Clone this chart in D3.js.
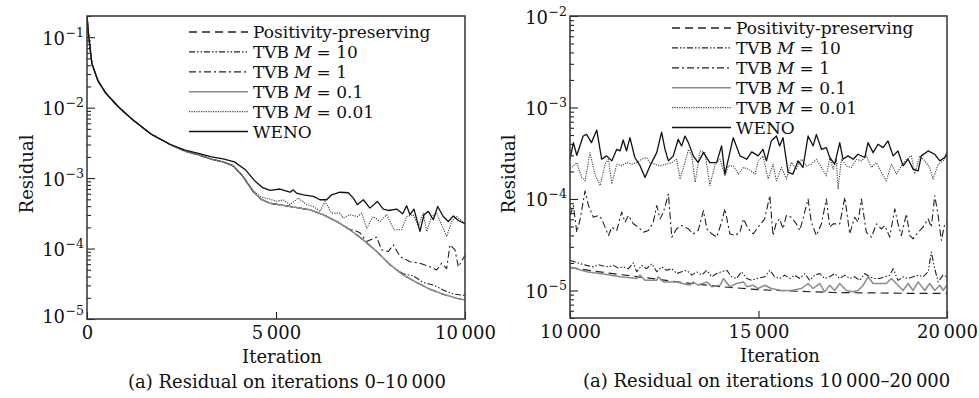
<!DOCTYPE html>
<html>
<head>
<meta charset="utf-8">
<script src="https://cdn.jsdelivr.net/npm/d3@7"></script>
<style>
body { margin: 0; background: #fff; }
svg text { font-family: "DejaVu Serif", serif; fill: #111; }
</style>
</head>
<body>
<svg id="chart" width="979" height="398"></svg>
<script>
// ---- data: [iteration, residual] ----
var seriesNames = ["Positivity-preserving", "TVB M = 10", "TVB M = 1", "TVB M = 0.1", "TVB M = 0.01", "WENO"];

// (a) iterations 0-10 000: part shared by every scheme
var leftShared = [[0, 0.2], [40, 0.11], [130, 0.042], [290, 0.024], [500, 0.016], [820, 0.0104],
    [1200, 0.0068], [1700, 0.0042], [2200, 0.003], [2600, 0.0024], [3000, 0.0021], [3300, 0.00185],
    [3600, 0.0017], [3860, 0.0015]];
var leftLower = [[4100, 1.1e-3], [4400, 6.4e-4], [4600, 5.0e-4], [4841, 4.4e-4], [5370, 3.96e-4],
    [5899, 3.55e-4], [6252, 3.02e-4], [6605, 2.42e-4], [6957, 1.85e-4], [7310, 1.33e-4], [7663, 9.1e-5],
    [8015, 5.9e-5], [8368, 4.2e-5], [8721, 3.3e-5], [9074, 2.64e-5], [9426, 2.24e-5], [9779, 1.97e-5],
    [10000, 1.86e-5]];
var leftTvb10Tail = [[8368, 4.37e-5], [8633, 4.09e-5], [8897, 3.3e-5], [9162, 3.04e-5], [9426, 2.58e-5],
    [9691, 2.26e-5], [10000, 2.15e-5]];
var leftTvb1Tail = [[7046, 1.85e-4], [7222, 1.67e-4], [7398, 1.26e-4], [7663, 1.45e-4], [7795, 9.6e-5],
    [7971, 9.1e-5], [8104, 1.13e-4], [8280, 7.7e-5], [8545, 6.5e-5], [8809, 6.2e-5], [9074, 5.5e-5],
    [9250, 4.97e-5], [9382, 6.2e-5], [9514, 5.2e-5], [9603, 1.13e-4], [9735, 9.6e-5], [9823, 5.5e-5],
    [9956, 7.3e-5], [10000, 8e-5]];
var leftTvb001Tail = [[4100, 1.1e-3], [4400, 6.6e-4], [4600, 5.4e-4], [4841, 5.0e-4], [5017, 4.7e-4],
    [5194, 4.9e-4], [5370, 4.2e-4], [5590, 5.2e-4], [5811, 4.2e-4], [5987, 3.96e-4], [6164, 3.37e-4],
    [6296, 4.67e-4], [6472, 3.18e-4], [6693, 3.18e-4], [6781, 2.7e-4], [6957, 3.02e-4], [7151, 2.85e-4],
    [7266, 3.18e-4], [7398, 1.95e-4], [7575, 2.85e-4], [7751, 2.42e-4], [7927, 3.02e-4], [8121, 1.85e-4],
    [8324, 1.85e-4], [8456, 2.85e-4], [8633, 3.02e-4], [8765, 2.06e-4], [8897, 3.18e-4], [8986, 1.75e-4],
    [9118, 2.85e-4], [9250, 3.18e-4], [9382, 2.17e-4], [9514, 1.48e-4], [9647, 2.42e-4], [9779, 2.85e-4],
    [10000, 2.25e-4]];
var leftWenoTail = [[2600, 0.0025], [3000, 0.0022], [3300, 0.002], [3600, 0.00188], [3900, 0.0017],
    [4200, 0.0013], [4450, 9e-4], [4650, 7.3e-4], [4841, 6.7e-4], [5106, 7.0e-4], [5370, 6.3e-4],
    [5458, 6.8e-4], [5546, 6.1e-4], [5723, 5.8e-4], [5987, 5.5e-4], [6164, 4.93e-4], [6340, 4.93e-4],
    [6472, 5.8e-4], [6693, 6.3e-4], [6913, 6.2e-4], [7046, 5.2e-4], [7151, 4.2e-4], [7310, 4.93e-4],
    [7486, 3.75e-4], [7680, 4.67e-4], [7839, 3.63e-4], [7971, 3.47e-4], [8192, 3.63e-4], [8351, 3.12e-4],
    [8456, 4.05e-4], [8545, 3.02e-4], [8650, 3.63e-4], [8809, 1.75e-4], [8915, 3.02e-4], [9030, 3.37e-4],
    [9162, 2.56e-4], [9277, 3.96e-4], [9426, 2.85e-4], [9559, 2.42e-4], [9691, 2.9e-4], [9823, 2.5e-4],
    [10000, 2.25e-4]];

// (b) iterations 10 000-20 000
var rightPos = [[10000, 1.78e-5], [11000, 1.55e-5], [12000, 1.38e-5], [13000, 1.22e-5], [14000, 1.1e-5],
    [15000, 1.02e-5], [16000, 9.8e-6], [17000, 9.5e-6], [18000, 9.4e-6], [19000, 9.3e-6], [20000, 9.3e-6]];
var rightTvb10 = [[10000, 2.14e-5], [10130, 2.05e-5], [10270, 1.96e-5], [10440, 1.88e-5], [10620, 1.81e-5],
    [10750, 1.91e-5], [10880, 1.85e-5], [11020, 1.81e-5], [11150, 1.88e-5], [11280, 1.76e-5], [11410, 1.81e-5],
    [11550, 1.73e-5], [11680, 2.0e-5], [11770, 1.6e-5], [11900, 1.88e-5], [12030, 1.73e-5], [12170, 1.96e-5],
    [12300, 1.6e-5], [12430, 1.81e-5], [12560, 1.66e-5], [12700, 1.73e-5], [12830, 1.53e-5], [12960, 1.6e-5],
    [13100, 1.66e-5], [13230, 1.47e-5], [13360, 1.6e-5], [13490, 1.47e-5], [13630, 1.66e-5], [13760, 1.41e-5],
    [13890, 1.53e-5], [14020, 1.6e-5], [14160, 1.66e-5], [14290, 1.41e-5], [14420, 1.35e-5], [14550, 1.6e-5],
    [14690, 1.35e-5], [14820, 1.29e-5], [14950, 1.35e-5], [15165, 1.41e-5], [15300, 1.66e-5], [15430, 1.41e-5],
    [15560, 1.35e-5], [15695, 1.47e-5], [15830, 1.35e-5], [15960, 1.47e-5], [16095, 1.35e-5], [16225, 1.53e-5],
    [16360, 1.29e-5], [16490, 1.47e-5], [16625, 1.53e-5], [16755, 1.35e-5], [16890, 1.41e-5], [17020, 1.53e-5],
    [17155, 1.35e-5], [17290, 1.47e-5], [17420, 1.35e-5], [17550, 1.41e-5], [17685, 1.29e-5], [17820, 1.53e-5],
    [17950, 1.41e-5], [18085, 1.35e-5], [18215, 1.35e-5], [18350, 1.41e-5], [18480, 1.47e-5], [18570, 1.73e-5],
    [18700, 1.29e-5], [18835, 1.41e-5], [18970, 1.35e-5], [19100, 1.41e-5], [19235, 1.47e-5], [19365, 1.41e-5],
    [19500, 1.6e-5], [19585, 2.63e-5], [19675, 1.73e-5], [19765, 1.24e-5], [19895, 1.47e-5], [20000, 1.41e-5]];
var rightTvb1 = [[10000, 6.6e-5], [10090, 8.46e-5], [10180, 4.34e-5], [10270, 6.06e-5], [10400, 1.23e-4],
    [10490, 8.46e-5], [10620, 6.31e-5], [10750, 6.6e-5], [10840, 6.06e-5], [10930, 4.92e-5], [11020, 3.99e-5],
    [11110, 4.92e-5], [11240, 4.53e-5], [11370, 7.2e-5], [11460, 5.57e-5], [11550, 6.6e-5], [11680, 5.35e-5],
    [11810, 4.92e-5], [11950, 4.34e-5], [12080, 4.53e-5], [12210, 5.57e-5], [12300, 8.46e-5], [12390, 6.06e-5],
    [12480, 7.2e-5], [12610, 1.13e-4], [12700, 3.83e-5], [12830, 4.72e-5], [12960, 5.13e-5], [13140, 4.72e-5],
    [13270, 4.16e-5], [13400, 4.53e-5], [13540, 7.47e-5], [13630, 4.72e-5], [13760, 4.16e-5], [13890, 3.83e-5],
    [14020, 5.57e-5], [14110, 7.8e-5], [14240, 4.16e-5], [14380, 3.99e-5], [14510, 4.34e-5], [14600, 6.06e-5],
    [14730, 4.72e-5], [14860, 4.16e-5], [14990, 4.92e-5], [15165, 6.06e-5], [15300, 1.09e-4], [15385, 3.99e-5],
    [15475, 5.57e-5], [15560, 6.06e-5], [15650, 4.72e-5], [15740, 6.6e-5], [15870, 6.31e-5], [16005, 5.35e-5],
    [16095, 4.53e-5], [16180, 6.06e-5], [16315, 1.0e-4], [16400, 5.57e-5], [16535, 3.99e-5], [16670, 5.35e-5],
    [16800, 1.0e-4], [16890, 4.92e-5], [16980, 5.35e-5], [17155, 5.35e-5], [17290, 1.04e-4], [17420, 4.16e-5],
    [17550, 6.31e-5], [17640, 5.57e-5], [17730, 1.0e-4], [17860, 4.34e-5], [17995, 3.83e-5], [18130, 5.35e-5],
    [18260, 4.72e-5], [18350, 5.13e-5], [18480, 3.83e-5], [18615, 7.8e-5], [18700, 5.35e-5], [18790, 3.99e-5],
    [18925, 6.87e-5], [19010, 3.99e-5], [19100, 3.67e-5], [19235, 4.34e-5], [19365, 4.92e-5], [19500, 6.06e-5],
    [19585, 4.92e-5], [19675, 1.09e-4], [19765, 6.6e-5], [19850, 3.52e-5], [19940, 5.35e-5], [20000, 5.57e-5]];
var rightTvb01 = [[10000, 1.81e-5], [10440, 1.6e-5], [10880, 1.51e-5], [11330, 1.41e-5], [11770, 1.35e-5],
    [11860, 1.47e-5], [11990, 1.29e-5], [12300, 1.29e-5], [12340, 1.41e-5], [12480, 1.24e-5], [12830, 1.24e-5],
    [13180, 1.14e-5], [13270, 1.24e-5], [13400, 1.14e-5], [13630, 1.24e-5], [13760, 1.1e-5], [13980, 1.14e-5],
    [14070, 1.35e-5], [14240, 1.1e-5], [14420, 1.19e-5], [14600, 1.24e-5], [14690, 1.1e-5], [14860, 1.14e-5],
    [14990, 1.05e-5], [15165, 1.14e-5], [15340, 1.05e-5], [15610, 1.0e-5], [15870, 1.0e-5], [16140, 1.05e-5],
    [16315, 1.19e-5], [16450, 1.05e-5], [16625, 1.19e-5], [16755, 9.66e-6], [16890, 1.14e-5], [17020, 1.0e-5],
    [17155, 1.19e-5], [17330, 1.0e-5], [17510, 9.66e-6], [17640, 1.0e-5], [17775, 1.14e-5], [17905, 1.41e-5],
    [18040, 1.19e-5], [18215, 1.19e-5], [18390, 1.19e-5], [18525, 1.35e-5], [18700, 1.14e-5], [18835, 1.0e-5],
    [18970, 1.19e-5], [19100, 1.0e-5], [19235, 1.24e-5], [19410, 1.0e-5], [19540, 1.19e-5], [19675, 1.0e-5],
    [19810, 1.14e-5], [19895, 1.0e-5], [20000, 1.14e-5]];
var rightTvb001 = [[10000, 2.15e-4], [10090, 2.3e-4], [10180, 2.5e-4], [10310, 1.72e-4], [10400, 1.58e-4],
    [10530, 3.21e-4], [10660, 1.87e-4], [10800, 1.4e-4], [10930, 2.4e-4], [11020, 2.72e-4], [11110, 1.46e-4],
    [11240, 2.4e-4], [11370, 2.3e-4], [11500, 2.5e-4], [11640, 2.4e-4], [11770, 2.5e-4], [11900, 2.72e-4],
    [12030, 2.84e-4], [12120, 2.5e-4], [12250, 2.4e-4], [12390, 2.3e-4], [12560, 2.4e-4], [12700, 2.5e-4],
    [12830, 2.72e-4], [12920, 1.65e-4], [13050, 2.5e-4], [13140, 3.49e-4], [13230, 2.96e-4], [13320, 1.52e-4],
    [13450, 3.35e-4], [13580, 3.21e-4], [13710, 1.4e-4], [13850, 2.4e-4], [13980, 2.72e-4], [14110, 1.79e-4],
    [14200, 2.3e-4], [14330, 2.3e-4], [14470, 1.87e-4], [14600, 2.21e-4], [14730, 2.12e-4], [14910, 1.87e-4],
    [14990, 2.61e-4], [15120, 2.96e-4], [15255, 1.65e-4], [15385, 2.4e-4], [15475, 1.58e-4], [15610, 2.21e-4],
    [15740, 1.65e-4], [15870, 2.5e-4], [16005, 2.12e-4], [16140, 2.72e-4], [16270, 2.3e-4], [16400, 2.4e-4],
    [16535, 2.72e-4], [16670, 2.21e-4], [16800, 1.79e-4], [16890, 2.84e-4], [16980, 2.12e-4], [17065, 2.72e-4],
    [17110, 1.28e-4], [17200, 2.72e-4], [17330, 2.3e-4], [17465, 2.21e-4], [17595, 2.72e-4], [17730, 2.61e-4],
    [17860, 2.96e-4], [17995, 2.21e-4], [18130, 2.5e-4], [18260, 1.95e-4], [18390, 1.58e-4], [18525, 2.4e-4],
    [18660, 1.87e-4], [18790, 2.3e-4], [18925, 2.72e-4], [19055, 2.96e-4], [19145, 1.87e-4], [19280, 2.96e-4],
    [19410, 2.61e-4], [19540, 2.21e-4], [19630, 1.65e-4], [19765, 2.4e-4], [19895, 2.61e-4], [20000, 2.96e-4]];
var rightWeno = [[10000, 2.72e-4], [10090, 4.13e-4], [10180, 3.0e-4], [10350, 4.88e-4], [10440, 5.08e-4],
    [10570, 4.13e-4], [10710, 5.66e-4], [10840, 2.72e-4], [10970, 2.96e-4], [11110, 2.61e-4], [11240, 3.49e-4],
    [11330, 3.35e-4], [11410, 4.41e-4], [11500, 3.35e-4], [11590, 4.68e-4], [11720, 2.84e-4], [11860, 2.3e-4],
    [11990, 1.72e-4], [12120, 2.3e-4], [12300, 3.21e-4], [12430, 5.39e-4], [12520, 3.49e-4], [12610, 2.61e-4],
    [12740, 2.96e-4], [12870, 4.49e-4], [12960, 3.8e-4], [13050, 4.88e-4], [13140, 4.13e-4], [13270, 2.96e-4],
    [13400, 2.5e-4], [13540, 3.21e-4], [13710, 2.5e-4], [13890, 2.5e-4], [14020, 3.8e-4], [14110, 1.87e-4],
    [14200, 2.72e-4], [14330, 4.68e-4], [14510, 2.96e-4], [14690, 2.72e-4], [14820, 3.27e-4], [14990, 2.96e-4],
    [15120, 3.49e-4], [15210, 2.61e-4], [15340, 4.31e-4], [15475, 4.88e-4], [15560, 3.8e-4], [15650, 4.68e-4],
    [15785, 1.95e-4], [15915, 1.87e-4], [16050, 2.61e-4], [16180, 2.21e-4], [16315, 4.88e-4], [16450, 3.8e-4],
    [16535, 5.08e-4], [16670, 3.49e-4], [16800, 3.64e-4], [16890, 2.84e-4], [17020, 2.4e-4], [17155, 4.13e-4],
    [17240, 2.72e-4], [17375, 2.96e-4], [17510, 2.72e-4], [17640, 3.08e-4], [17820, 2.84e-4], [17905, 4.13e-4],
    [18040, 3.21e-4], [18170, 3.96e-4], [18305, 3.64e-4], [18435, 4.31e-4], [18570, 2.96e-4], [18700, 3.35e-4],
    [18835, 2.3e-4], [18970, 2.72e-4], [19100, 2.12e-4], [19235, 2.03e-4], [19320, 2.96e-4], [19500, 3.35e-4],
    [19675, 3.08e-4], [19810, 2.61e-4], [19940, 2.84e-4], [20000, 3.21e-4]];

var leftXTicks = [0, 5000, 10000];
var rightXTicks = [10000, 15000, 20000];

// line look per scheme, same order as seriesNames
var lineStyles = [
    { color: "#222", width: 1.2, dash: "8,5" },
    { color: "#222", width: 1.1, dash: "6,2,1.5,2,1.5,2" },
    { color: "#222", width: 1.1, dash: "7,3,2,3" },
    { color: "#8c8c8c", width: 1.5, dash: null },
    { color: "#444", width: 1.1, dash: "1.2,1.2" },
    { color: "#111", width: 1.3, dash: null }
];

function upTo(arr, last) {
    return arr.filter(function (d) { return d[0] <= last; });
}

var leftSeries = [
    leftShared.concat(leftLower),
    leftShared.concat(upTo(leftLower, 8015), leftTvb10Tail),
    leftShared.concat(upTo(leftLower, 6957), leftTvb1Tail),
    leftShared.concat(leftLower),
    leftShared.concat(leftTvb001Tail),
    upTo(leftShared, 2200).concat(leftWenoTail)
];
var rightSeries = [rightPos, rightTvb10, rightTvb1, rightTvb01, rightTvb001, rightWeno];

var svg = d3.select("#chart");

function fmtThousands(v) {
    return String(v).replace(/\B(?=(\d{3})+(?!\d))/g, "\u2009");
}

// lay text pieces side by side as separate <text> nodes
function pieces(parent, x, y, parts) {
    var cx = x;
    parts.forEach(function (p) {
        var t = parent.append("text")
            .attr("x", cx).attr("y", y + (p.dy || 0))
            .attr("text-anchor", "start")
            .style("font-size", p.size + "px")
            .style("font-style", p.italic ? "italic" : "normal")
            .text(p.text);
        cx += t.node().getComputedTextLength() + (p.gap || 0);
    });
    return cx - x;
}

function drawPanel(cfg) {
    "use strict";
    var g = svg.append("g").attr("transform", "translate(" + cfg.left + "," + cfg.top + ")");
    var x = d3.scaleLinear().domain(cfg.xDomain).range([0, cfg.width]);
    var y = d3.scaleLog().domain(cfg.yDomain).range([cfg.height, 0]);

    var clipId = "clip" + cfg.id;
    g.append("clipPath").attr("id", clipId)
        .append("rect").attr("width", cfg.width).attr("height", cfg.height);

    // y axis, ticks inward, minor ticks 2..9
    var isMajor = function (d) { return Math.abs(Math.log10(d) - Math.round(Math.log10(d))) < 1e-9; };
    var gy = g.append("g").call(d3.axisLeft(y).tickValues(y.ticks()).tickSizeInner(-4).tickSizeOuter(0).tickFormat(""));
    gy.select(".domain").remove();
    gy.selectAll(".tick line").attr("stroke", "#222").attr("stroke-width", 1.1)
        .attr("x2", function (d) { return isMajor(d) ? 8 : 4; });
    gy.selectAll(".tick text").remove();
    gy.selectAll(".tick").filter(isMajor).each(function (d) {
        var low = Math.abs(y(d) - cfg.height) < 1 ? -4 : 0;
        var lab = d3.select(this).append("g");
        var w = pieces(lab, 0, 7 + low, [
            { text: "10", size: 18, gap: 0.5 },
            { text: "\u2212" + Math.abs(Math.round(Math.log10(d))), size: 12.5, dy: -8 }
        ]);
        lab.attr("transform", "translate(" + (-3 - w) + ",0)");
    });

    // x axis
    var gx = g.append("g").attr("transform", "translate(0," + cfg.height + ")")
        .call(d3.axisBottom(x).tickValues(cfg.xTicks).tickSizeInner(-7).tickSizeOuter(0).tickFormat(fmtThousands));
    gx.select(".domain").remove();
    gx.selectAll(".tick line").attr("stroke", "#222").attr("stroke-width", 1.1);
    gx.selectAll(".tick text").attr("y", 7).attr("dy", "0.71em")
        .style("font-size", "18px").style("fill", "#111");

    // lines
    var line = d3.line()
        .x(function (d) { return x(d[0]); })
        .y(function (d) { return y(d[1]); });
    g.append("g").attr("clip-path", "url(#" + clipId + ")")
        .selectAll("path")
        .data(cfg.series)
        .enter()
        .append("path")
        .attr("d", line)
        .attr("fill", "none")
        .attr("stroke-linejoin", "round")
        .attr("stroke", function (d, i) { return lineStyles[i].color; })
        .attr("stroke-width", function (d, i) { return lineStyles[i].width; })
        .attr("stroke-dasharray", function (d, i) { return lineStyles[i].dash; });

    // frame
    g.append("rect").attr("width", cfg.width).attr("height", cfg.height)
        .attr("fill", "none").attr("stroke", "#333").attr("stroke-width", 1.5);

    // legend
    var leg = g.append("g").attr("transform", "translate(" + cfg.legX + "," + cfg.legY + ")");
    seriesNames.forEach(function (name, i) {
        var yy = i * 19.9;
        var st = lineStyles[i];
        leg.append("line").attr("x1", 0).attr("x2", 59).attr("y1", yy).attr("y2", yy)
            .attr("stroke", st.color).attr("stroke-width", st.width + 0.1)
            .attr("stroke-dasharray", st.dash);
        if (name.indexOf("TVB M") === 0) {
            pieces(leg, 64, yy + 6, [
                { text: "TVB", size: 17, gap: 5 },
                { text: "M", size: 17, italic: true, gap: 5 },
                { text: name.slice(6), size: 17 }
            ]);
        } else {
            leg.append("text").attr("x", 64).attr("y", yy + 6).style("font-size", "17px").text(name);
        }
    });

    // titles
    g.append("text")
        .attr("transform", "translate(" + cfg.yTitleX + "," + cfg.yTitleY + ") rotate(-90)")
        .attr("text-anchor", "middle").style("font-size", "18px").text("Residual");
    g.append("text").attr("x", cfg.xTitleX).attr("y", cfg.height + 44)
        .attr("text-anchor", "middle").style("font-size", "18px").text("Iteration");
    g.append("text").attr("x", cfg.captionX).attr("y", cfg.height + 69)
        .attr("text-anchor", "start").style("font-size", "18px").text(cfg.caption);
}

drawPanel({
    id: "a", left: 87, top: 16, width: 378, height: 303,
    xDomain: [0, 10000], yDomain: [1e-5, 0.2], xTicks: leftXTicks,
    series: leftSeries, legX: 102, legY: 16,
    yTitleX: -54, yTitleY: 158, xTitleX: 195, captionX: 41,
    caption: "(a) Residual on iterations 0\u201310\u2009000"
});
drawPanel({
    id: "b", left: 570, top: 16, width: 377, height: 302,
    xDomain: [10000, 20000], yDomain: [5e-6, 1e-2], xTicks: rightXTicks,
    series: rightSeries, legX: 102, legY: 12,
    yTitleX: -55, yTitleY: 158, xTitleX: 210, captionX: 13,
    caption: "(a) Residual on iterations 10\u2009000\u201320\u2009000"
});
</script>
</body>
</html>
